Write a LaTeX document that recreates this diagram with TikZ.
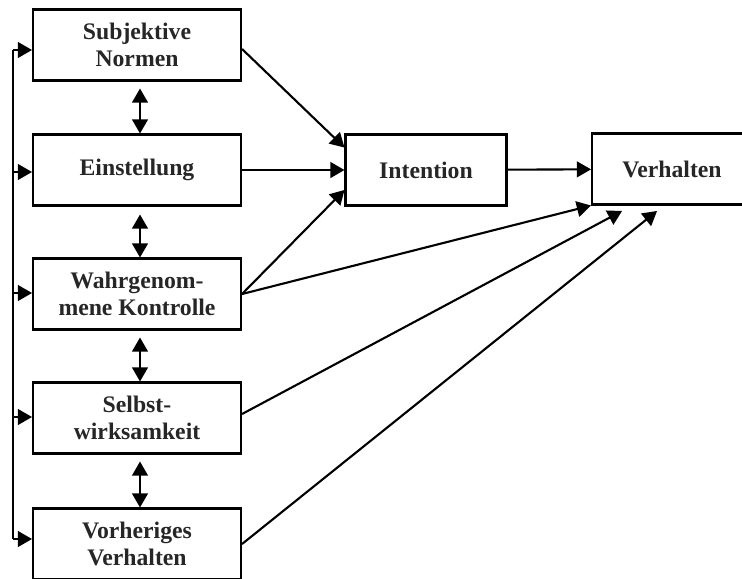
\documentclass[tikz,border=0pt]{standalone}
\usepackage{fontspec}
\setmainfont{Liberation Serif}
\usetikzlibrary{arrows,positioning}

\begin{document}
\begin{tikzpicture}[x=0.02cm,y=-0.02cm,line width=1.2pt]
				\tikzstyle{mybox} = [draw,align=center,inner sep=0pt,minimum height=1.42cm,
					text=black!85,font=\bfseries\fontsize{13.5}{15}\selectfont]
				\tikzstyle{myedgestyle} = [-triangle 60]
				\tikzstyle{mydoubleedge} = [triangle 60-triangle 60]
				
				\useasboundingbox (0,0) rectangle (742,578);
				\clip (0,0) rectangle (742,578);
				
				\node[mybox,minimum width=4.16cm] (SN) at (137,45) {Subjektive\\Normen};
				\node[mybox,minimum width=4.16cm] (EI) at (137,170) {Einstellung};
				\node[mybox,minimum width=4.16cm] (WK) at (137,294) {Wahrgenom-\\mene Kontrolle};
				\node[mybox,minimum width=4.16cm] (SW) at (137,418) {Selbst-\\wirksamkeit};
				\node[mybox,minimum width=4.16cm] (VV) at (137,544) {Vorheriges\\Verhalten};
				
				\node[mybox,minimum width=3.22cm] (IN) at (426,170) {Intention};
				\node[mybox,minimum width=3.2cm] (VH) at (672,169) {Verhalten};
				
				\coordinate (L1) at (13,50);
				\coordinate (L2) at (13,172);
				\coordinate (L3) at (13,293);
				\coordinate (L4) at (13,417);
				\coordinate (L5) at (13,539);
				\coordinate (V1) at (622,211);
				\coordinate (V2) at (657,211);
				
				\draw (L1) -- (L5);
				\draw [myedgestyle] (L1) -- (L1 -| SN.west);
				\draw [myedgestyle] (L2) -- (L2 -| EI.west);
				\draw [myedgestyle] (L3) -- (L3 -| WK.west);
				\draw [myedgestyle] (L4) -- (L4 -| SW.west);
				\draw [myedgestyle] (L5) -- (L5 -| VV.west);
				
				\draw [mydoubleedge,shorten <=0.14cm] ([xshift=0.06cm]SN.south) -- ([xshift=0.06cm]EI.north);
				\draw [mydoubleedge,shorten <=0.16cm] ([xshift=0.06cm]EI.south) -- ([xshift=0.06cm]WK.north);
				\draw [mydoubleedge,shorten <=0.14cm] ([xshift=0.06cm]WK.south) -- ([xshift=0.06cm]SW.north);
				\draw [mydoubleedge,shorten <=0.14cm] ([xshift=0.06cm]SW.south) -- ([xshift=0.06cm]VV.north);
				
				\draw [myedgestyle] ([yshift=-0.08cm]SN.east) -- ([yshift=0.45cm]IN.west);
				\draw [myedgestyle] (EI) -- (IN);
				\draw [myedgestyle] (WK.east) -- ([yshift=-0.4cm]IN.west);
				\draw [myedgestyle] (IN) -- (VH);
				\draw [myedgestyle] (WK.east) -- (VH.south west);
				\draw [myedgestyle] ([yshift=0.08cm]SW.east) -- (V1);
				\draw [myedgestyle] (VV.east) -- (V2);
				
				\end{tikzpicture}
\end{document}
